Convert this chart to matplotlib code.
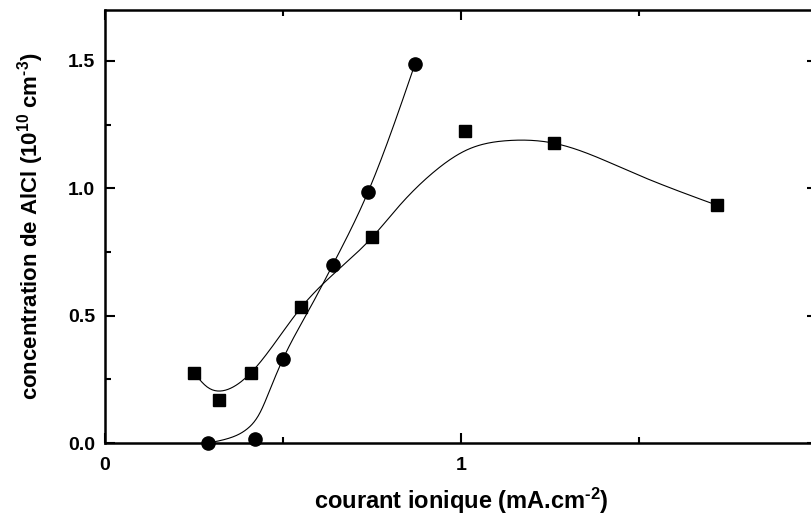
import numpy as np
import matplotlib.pyplot as plt
from matplotlib.ticker import MultipleLocator

plt.rcParams['font.family'] = ['Liberation Sans', 'DejaVu Sans']
plt.rcParams['font.weight'] = 'bold'
plt.rcParams['mathtext.fontset'] = 'custom'
plt.rcParams['mathtext.bf'] = 'Liberation Sans:bold'
plt.rcParams['mathtext.rm'] = 'Liberation Sans:bold'
plt.rcParams['mathtext.default'] = 'bf'

# measured points (squares and circles)
sq_x = [0.25, 0.32, 0.41, 0.551, 0.75, 1.011, 1.261, 1.72]
sq_y = [0.276, 0.169, 0.276, 0.532, 0.807, 1.223, 1.177, 0.933]
ci_x = [0.289, 0.421, 0.50, 0.64, 0.739, 0.871]
ci_y = [0.0, 0.015, 0.33, 0.70, 0.986, 1.489]

# fitted curves
fit_sq_x = [0.25, 0.287, 0.323, 0.36, 0.41, 0.551, 0.75, 0.829, 0.921, 1.017, 1.129, 1.261, 1.483, 1.72]
fit_sq_y = [0.276, 0.22, 0.204, 0.22, 0.276, 0.532, 0.807, 0.935, 1.061, 1.151, 1.187, 1.177, 1.061, 0.933]
fit_ci_x = [0.289, 0.351, 0.399, 0.435, 0.463, 0.50, 0.57, 0.64, 0.739, 0.871]
fit_ci_y = [0.0, 0.020, 0.055, 0.118, 0.208, 0.33, 0.515, 0.70, 0.986, 1.489]

x_ticks = [0, 1, 2]
x_ticklabels = ['0', '1', '']
y_ticks = [0.0, 0.5, 1.0, 1.5]
y_ticklabels = ['0.0', '0.5', '1.0', '1.5']


def spline(xk, yk, n=400):
    # natural cubic spline through the knots
    xk = np.asarray(xk, float)
    yk = np.asarray(yk, float)
    k = len(xk)
    h = np.diff(xk)
    A = np.zeros((k, k))
    b = np.zeros(k)
    A[0, 0] = A[-1, -1] = 1
    for i in range(1, k - 1):
        A[i, i - 1] = h[i - 1]
        A[i, i] = 2 * (h[i - 1] + h[i])
        A[i, i + 1] = h[i]
        b[i] = 6 * ((yk[i + 1] - yk[i]) / h[i] - (yk[i] - yk[i - 1]) / h[i - 1])
    M = np.linalg.solve(A, b)
    xs = np.linspace(xk[0], xk[-1], n)
    j = np.clip(np.searchsorted(xk, xs) - 1, 0, k - 2)
    t0 = xk[j + 1] - xs
    t1 = xs - xk[j]
    hj = h[j]
    ys = (M[j] * t0 ** 3 + M[j + 1] * t1 ** 3) / (6 * hj) \
        + (yk[j] / hj - M[j] * hj / 6) * t0 + (yk[j + 1] / hj - M[j + 1] * hj / 6) * t1
    return xs, ys


fig = plt.figure(figsize=(8.12, 5.22), dpi=100)
ax = fig.add_axes([105 / 812, 79 / 522, 712 / 812, 433 / 522])

xs, ys = spline(fit_sq_x, fit_sq_y)
ax.plot(xs, ys, color='black', lw=0.8)
xs, ys = spline(fit_ci_x, fit_ci_y)
ax.plot(xs, ys, color='black', lw=0.8)

ax.plot(sq_x, sq_y, 's', color='black', ms=9, clip_on=False, zorder=5)
ax.plot(ci_x, ci_y, 'o', color='black', ms=9.5, clip_on=False, zorder=5)

ax.set_xlim(0, 2)
ax.set_ylim(0, 1.7)
ax.set_xticks(x_ticks)
ax.set_xticklabels(x_ticklabels)
ax.set_yticks(y_ticks)
ax.set_yticklabels(y_ticklabels)
ax.xaxis.set_minor_locator(MultipleLocator(0.5))
ax.yaxis.set_minor_locator(MultipleLocator(0.25))

for s in ax.spines.values():
    s.set_linewidth(1.8)
ax.tick_params(which='both', direction='in', top=True, right=True, width=1.5)
ax.tick_params(which='major', length=7.5)
ax.tick_params(which='minor', length=4)
ax.tick_params(axis='y', labelsize=14, pad=7)
ax.tick_params(axis='x', labelsize=14, pad=10)

ax.set_xlabel(r'courant ionique (mA.cm$^{\text{-}2}$)', fontsize=17, fontweight='bold')
ax.set_ylabel(r'concentration de AlCl (10$^{10}$ cm$^{\text{-}3}$)', fontsize=16, fontweight='bold')
ax.xaxis.set_label_coords(0.5, -0.1)
ax.yaxis.set_label_coords(-0.083, 0.5)

fig.savefig('out.png', dpi=100)
